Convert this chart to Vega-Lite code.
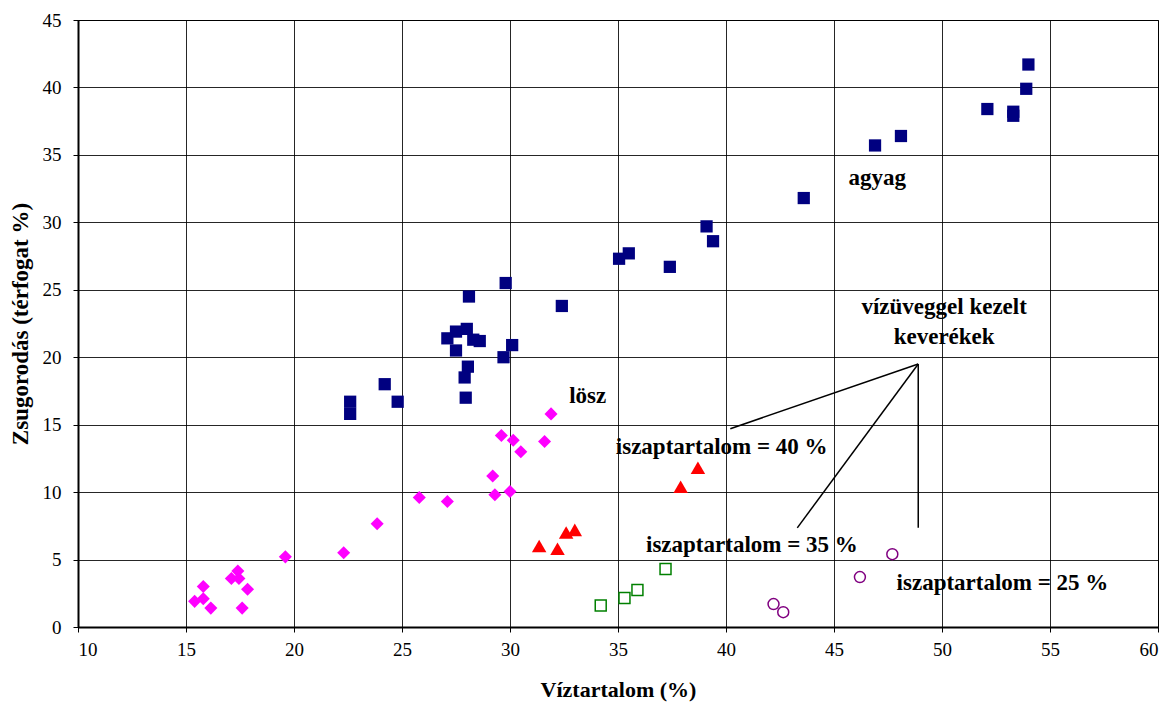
{
  "$schema": "https://vega.github.io/schema/vega-lite/v6.json",
  "autosize": {"type": "none"},
  "width": 1080,
  "height": 607,
  "padding": {"left": 78, "top": 20, "right": 17, "bottom": 82},
  "background": "white",
  "config": {
    "view": {"stroke": "black", "strokeWidth": 1},
    "font": "Liberation Serif",
    "axis": {
      "grid": true,
      "gridColor": "#000000",
      "gridOpacity": 0.85,
      "gridWidth": 1,
      "domainColor": "#000000",
      "domainWidth": 2,
      "tickColor": "#000000",
      "tickSize": 5,
      "labelFont": "Liberation Serif",
      "labelFontSize": 19,
      "labelColor": "#000000",
      "titleFont": "Liberation Serif",
      "titleFontWeight": "bold",
      "titleColor": "#000000"
    }
  },
  "datasets": {
    "pts": [
      {"g": "agyag", "x": 22.6, "y": 16.7},
      {"g": "agyag", "x": 22.6, "y": 15.8},
      {"g": "agyag", "x": 24.2, "y": 18.0},
      {"g": "agyag", "x": 24.8, "y": 16.7},
      {"g": "agyag", "x": 27.1, "y": 21.4},
      {"g": "agyag", "x": 27.5, "y": 21.9},
      {"g": "agyag", "x": 28.0, "y": 22.1},
      {"g": "agyag", "x": 28.3, "y": 21.3},
      {"g": "agyag", "x": 28.6, "y": 21.2},
      {"g": "agyag", "x": 27.5, "y": 20.5},
      {"g": "agyag", "x": 28.1, "y": 24.5},
      {"g": "agyag", "x": 29.8, "y": 25.5},
      {"g": "agyag", "x": 30.1, "y": 20.9},
      {"g": "agyag", "x": 29.7, "y": 20.0},
      {"g": "agyag", "x": 28.05, "y": 19.3},
      {"g": "agyag", "x": 27.9, "y": 18.5},
      {"g": "agyag", "x": 27.95, "y": 17.0},
      {"g": "agyag", "x": 32.4, "y": 23.8},
      {"g": "agyag", "x": 35.05, "y": 27.3},
      {"g": "agyag", "x": 35.5, "y": 27.7},
      {"g": "agyag", "x": 37.4, "y": 26.7},
      {"g": "agyag", "x": 39.1, "y": 29.7},
      {"g": "agyag", "x": 39.4, "y": 28.6},
      {"g": "agyag", "x": 43.6, "y": 31.8},
      {"g": "agyag", "x": 46.9, "y": 35.7},
      {"g": "agyag", "x": 48.1, "y": 36.4},
      {"g": "agyag", "x": 52.1, "y": 38.4},
      {"g": "agyag", "x": 53.3, "y": 38.2},
      {"g": "agyag", "x": 53.3, "y": 37.9},
      {"g": "agyag", "x": 53.9, "y": 39.9},
      {"g": "agyag", "x": 54.0, "y": 41.7},
      {"g": "losz", "x": 15.4, "y": 1.9},
      {"g": "losz", "x": 15.8, "y": 2.1},
      {"g": "losz", "x": 15.8, "y": 3.0},
      {"g": "losz", "x": 16.15, "y": 1.4},
      {"g": "losz", "x": 17.4, "y": 4.15},
      {"g": "losz", "x": 17.1, "y": 3.6},
      {"g": "losz", "x": 17.45, "y": 3.6},
      {"g": "losz", "x": 17.85, "y": 2.8},
      {"g": "losz", "x": 17.6, "y": 1.4},
      {"g": "losz", "x": 19.6, "y": 5.2},
      {"g": "losz", "x": 22.3, "y": 5.5},
      {"g": "losz", "x": 23.85, "y": 7.65},
      {"g": "losz", "x": 25.8, "y": 9.6},
      {"g": "losz", "x": 27.1, "y": 9.3},
      {"g": "losz", "x": 29.3, "y": 9.8},
      {"g": "losz", "x": 30.0, "y": 10.05},
      {"g": "losz", "x": 29.2, "y": 11.2},
      {"g": "losz", "x": 29.6, "y": 14.2},
      {"g": "losz", "x": 30.15, "y": 13.85},
      {"g": "losz", "x": 30.5, "y": 13.0},
      {"g": "losz", "x": 31.6, "y": 13.75},
      {"g": "losz", "x": 31.9, "y": 15.8},
      {"g": "i40", "x": 31.35, "y": 6.0},
      {"g": "i40", "x": 32.2, "y": 5.8},
      {"g": "i40", "x": 32.6, "y": 7.0},
      {"g": "i40", "x": 33.0, "y": 7.2},
      {"g": "i40", "x": 37.9, "y": 10.4},
      {"g": "i40", "x": 38.7, "y": 11.8},
      {"g": "i35", "x": 34.2, "y": 1.6},
      {"g": "i35", "x": 35.3, "y": 2.15},
      {"g": "i35", "x": 35.9, "y": 2.75},
      {"g": "i35", "x": 37.2, "y": 4.3},
      {"g": "i25", "x": 42.2, "y": 1.7},
      {"g": "i25", "x": 42.65, "y": 1.1},
      {"g": "i25", "x": 46.2, "y": 3.7},
      {"g": "i25", "x": 47.7, "y": 5.4}
    ],
    "labels": [
      {"x": 47.0, "y": 33.3, "t": "agyag"},
      {"x": 33.6, "y": 17.1, "t": "lösz"},
      {"x": 39.8, "y": 13.35, "t": "iszaptartalom = 40 %"},
      {"x": 41.2, "y": 6.05, "t": "iszaptartalom = 35 %"},
      {"x": 52.8, "y": 3.25, "t": "iszaptartalom = 25 %"},
      {"x": 50.1, "y": 23.75, "t": "vízüveggel kezelt"},
      {"x": 50.1, "y": 21.5, "t": "keverékek"}
    ],
    "lines": [
      {"x": 48.9, "y": 19.5, "x2": 40.2, "y2": 14.7},
      {"x": 48.9, "y": 19.5, "x2": 43.3, "y2": 7.35},
      {"x": 48.9, "y": 19.5, "x2": 48.9, "y2": 7.35}
    ]
  },
  "layer": [
    {
      "data": {"name": "lines"},
      "mark": {"type": "rule", "color": "black", "strokeWidth": 1.5},
      "encoding": {
        "x": {"field": "x", "type": "quantitative", "scale": {"domain": [10, 60]}, "axis": {"values": [10,15,20,25,30,35,40,45,50,55,60], "title": "Víztartalom (%)", "titleFontSize": 22, "labelPadding": 8, "titlePadding": 20}},
        "y": {"field": "y", "type": "quantitative", "scale": {"domain": [0, 45]}, "axis": {"values": [0,5,10,15,20,25,30,35,40,45], "title": "Zsugorodás (térfogat %)", "titleFontSize": 23, "labelPadding": 12, "titlePadding": 10}},
        "x2": {"field": "x2"},
        "y2": {"field": "y2"}
      }
    },
    {
      "data": {"name": "pts"},
      "transform": [{"filter": "datum.g == 'agyag'"}],
      "mark": {"type": "point", "shape": "square", "filled": true, "color": "#000080", "size": 150, "opacity": 1},
      "encoding": {
        "x": {"field": "x", "type": "quantitative"},
        "y": {"field": "y", "type": "quantitative"}
      }
    },
    {
      "data": {"name": "pts"},
      "transform": [{"filter": "datum.g == 'losz'"}],
      "mark": {"type": "point", "shape": "diamond", "filled": true, "color": "#FF00FF", "size": 170, "opacity": 1},
      "encoding": {
        "x": {"field": "x", "type": "quantitative"},
        "y": {"field": "y", "type": "quantitative"}
      }
    },
    {
      "data": {"name": "pts"},
      "transform": [{"filter": "datum.g == 'i40'"}],
      "mark": {"type": "point", "shape": "triangle-up", "filled": true, "color": "#FF0000", "size": 210, "opacity": 1},
      "encoding": {
        "x": {"field": "x", "type": "quantitative"},
        "y": {"field": "y", "type": "quantitative"}
      }
    },
    {
      "data": {"name": "pts"},
      "transform": [{"filter": "datum.g == 'i35'"}],
      "mark": {"type": "point", "shape": "square", "filled": false, "color": "#008000", "size": 120, "strokeWidth": 1.5, "opacity": 1},
      "encoding": {
        "x": {"field": "x", "type": "quantitative"},
        "y": {"field": "y", "type": "quantitative"}
      }
    },
    {
      "data": {"name": "pts"},
      "transform": [{"filter": "datum.g == 'i25'"}],
      "mark": {"type": "point", "shape": "circle", "filled": false, "color": "#800080", "size": 120, "strokeWidth": 1.5, "opacity": 1},
      "encoding": {
        "x": {"field": "x", "type": "quantitative"},
        "y": {"field": "y", "type": "quantitative"}
      }
    },
    {
      "data": {"name": "labels"},
      "mark": {"type": "text", "font": "Liberation Serif", "fontSize": 23, "fontWeight": "bold", "color": "black", "align": "center", "baseline": "middle"},
      "encoding": {
        "x": {"field": "x", "type": "quantitative"},
        "y": {"field": "y", "type": "quantitative"},
        "text": {"field": "t"}
      }
    }
  ]
}
